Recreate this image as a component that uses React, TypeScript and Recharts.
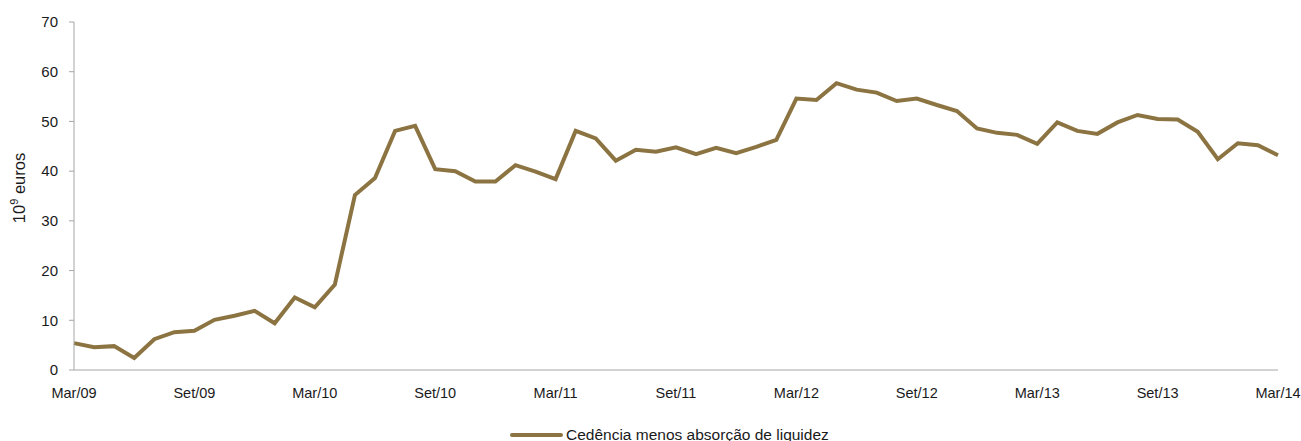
import React from "react";
import { LineChart, Line, XAxis, YAxis, Legend } from "recharts";

const months = ["Jan", "Fev", "Mar", "Abr", "Mai", "Jun", "Jul", "Ago", "Set", "Out", "Nov", "Dez"];

// Mar/09 .. Mar/14, monthly, 10^9 euros
const values2009 = [5.4, 4.6, 4.8, 2.4, 6.2, 7.6, 7.9, 10.1, 10.9, 11.9];
const values2010 = [9.4, 14.6, 12.6, 17.2, 35.2, 38.6, 48.1, 49.1, 40.4, 40.0, 37.9, 37.9];
const values2011 = [41.2, 39.9, 38.4, 48.1, 46.6, 42.1, 44.3, 43.9, 44.8, 43.4, 44.7, 43.6];
const values2012 = [44.9, 46.3, 54.6, 54.3, 57.7, 56.4, 55.8, 54.1, 54.6, 53.3, 52.1, 48.6];
const values2013 = [47.7, 47.3, 45.5, 49.8, 48.1, 47.5, 49.8, 51.3, 50.5, 50.4, 47.9, 42.4];
const values2014 = [45.6, 45.2, 43.2];

const yTicks = [0, 10, 20, 30, 40, 50, 60, 70];
const seriesName = "Cedência menos absorção de liquidez";

const years = [
  { yy: "09", vals: values2009, start: 2 },
  { yy: "10", vals: values2010, start: 0 },
  { yy: "11", vals: values2011, start: 0 },
  { yy: "12", vals: values2012, start: 0 },
  { yy: "13", vals: values2013, start: 0 },
  { yy: "14", vals: values2014, start: 0 },
];

const data = years.flatMap(({ yy, vals, start }) =>
  vals.map((v, i) => ({ date: `${months[start + i]}/${yy}`, value: v }))
);

const COLOR = "#8c7442";
const AXIS = "#a6a6a6";
const FONT = "'Liberation Sans', Arial, sans-serif";

const renderLegend = () => (
  <div style={{ height: 41, position: "relative" }}>
    <div style={{ position: "absolute", left: 510, top: 26, display: "flex", alignItems: "center" }}>
      <div style={{ width: 53, height: 4, borderRadius: 2, background: COLOR, marginRight: 3 }} />
      <span style={{ fontFamily: FONT, fontSize: 15.5, color: "#1a1a1a" }}>{seriesName}</span>
    </div>
  </div>
);

const YLabel = () => (
  <text x={21} y={188} transform="rotate(-90 21 188)" textAnchor="middle" fontFamily={FONT} fontSize={16.5} fill="#1a1a1a" dominantBaseline="middle">
    10<tspan dy={-6} fontSize={11}>9</tspan>
    <tspan dy={6}> euros</tspan>
  </text>
);

export default function App() {
  return (
    <>
      <style>{`body { margin: 0; overflow: hidden; }`}</style>
      <LineChart width={1301} height={441} data={data} margin={{ top: 22, right: 23, left: 0, bottom: 0 }}>
        <XAxis
          dataKey="date"
          interval={5}
          tickLine={false}
          tickSize={0}
          tickMargin={18}
          height={30}
          stroke={AXIS}
          tick={{ fill: "#1a1a1a", fontSize: 14.5, fontFamily: FONT }}
        />
        <YAxis
          domain={[0, 70]}
          ticks={yTicks}
          width={74}
          tickSize={5}
          tickMargin={11}
          stroke={AXIS}
          tick={{ fill: "#1a1a1a", fontSize: 15, fontFamily: FONT }}
          label={<YLabel />}
        />
        <Legend verticalAlign="bottom" content={renderLegend} />
        <Line
          type="linear"
          dataKey="value"
          name={seriesName}
          stroke={COLOR}
          strokeWidth={4}
          dot={false}
          isAnimationActive={false}
        />
      </LineChart>
    </>
  );
}
